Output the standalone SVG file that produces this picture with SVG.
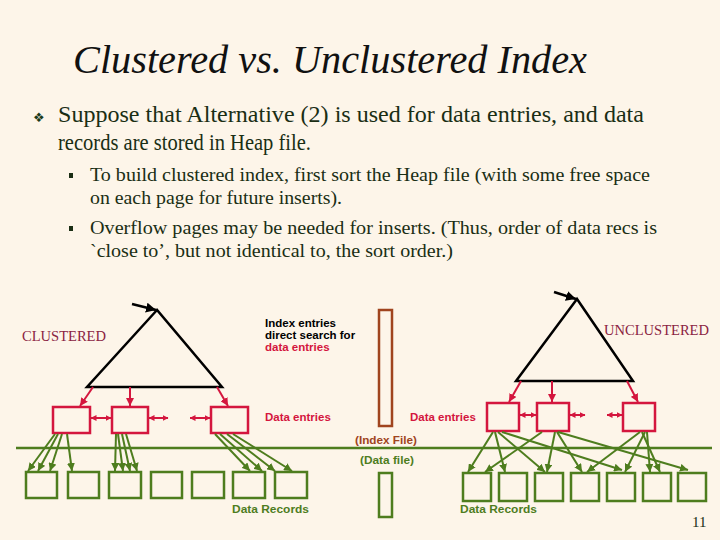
<svg xmlns="http://www.w3.org/2000/svg" width="720" height="540" viewBox="0 0 720 540">
<style>
.title{font-family:"Liberation Serif","Times New Roman","DejaVu Serif",serif;font-style:italic;font-size:40px;fill:#111}
.body{font-family:"Liberation Serif","Times New Roman",serif;fill:#1a2e14}
.lbl{font-family:"Liberation Sans",Arial,sans-serif;font-weight:bold;font-size:11.5px}
.cap{font-family:"Liberation Serif",serif;font-size:14px;fill:#8b2342}
.tri{fill:none;stroke:#000;stroke-width:2.5;stroke-linejoin:miter}
.de{fill:none;stroke:#d4163e;stroke-width:2.5}
.rec{fill:none;stroke:#4e7d1e;stroke-width:2.5}
.ra{stroke:#d4163e;stroke-width:2;fill:none;marker-end:url(#rh)}
.rd{stroke:#d4163e;stroke-width:2;fill:none;marker-end:url(#rs);marker-start:url(#rs)}
.ga{stroke:#4e7d1e;stroke-width:2;fill:none;marker-end:url(#gh)}
</style>
<defs>
<marker id="rh" markerUnits="userSpaceOnUse" markerWidth="9" markerHeight="8" refX="8" refY="4" orient="auto"><path d="M0,0 L8,4 L0,8 z" fill="#d4163e"/></marker>
<marker id="rs" markerUnits="userSpaceOnUse" markerWidth="6" markerHeight="6" refX="5.5" refY="3" orient="auto-start-reverse"><path d="M0,0 L6,3 L0,6 z" fill="#d4163e"/></marker>
<marker id="gh" markerUnits="userSpaceOnUse" markerWidth="9" markerHeight="8" refX="8" refY="4" orient="auto"><path d="M0,0 L8,4 L0,8 z" fill="#4e7d1e"/></marker>
<marker id="bh" markerUnits="userSpaceOnUse" markerWidth="11" markerHeight="10" refX="10" refY="5" orient="auto"><path d="M0,0 L10,5 L0,10 z" fill="#000"/></marker>
</defs>
<rect width="720" height="540" fill="#fdf5e9"/>

<text class="title" x="73" y="73" textLength="514" lengthAdjust="spacingAndGlyphs">Clustered vs. Unclustered Index</text>

<g id="bullets">
<text x="33" y="122" font-family="DejaVu Sans,sans-serif" font-size="13" fill="#1a3a1a">❖</text>
<text class="body" font-size="23" x="58" y="122" textLength="586" lengthAdjust="spacingAndGlyphs">Suppose that Alternative (2) is used for data entries, and data</text>
<text class="body" font-size="23" x="58" y="150" textLength="253" lengthAdjust="spacingAndGlyphs">records are stored in Heap file.</text>
<rect x="69" y="173" width="4" height="5" fill="#1a2e14"/>
<text class="body" font-size="19" x="90" y="181" textLength="560" lengthAdjust="spacingAndGlyphs">To build clustered index, first sort the Heap file (with some free space</text>
<text class="body" font-size="19" x="90" y="204" textLength="252" lengthAdjust="spacingAndGlyphs">on each page for future inserts).</text>
<rect x="69" y="226" width="4" height="5" fill="#1a2e14"/>
<text class="body" font-size="19" x="90" y="234" textLength="567" lengthAdjust="spacingAndGlyphs">Overflow pages may be needed for inserts.  (Thus, order of data recs is</text>
<text class="body" font-size="19" x="90" y="257" textLength="363" lengthAdjust="spacingAndGlyphs">`close to’, but not identical to, the sort order.)</text>
</g>

<g id="labels">
<text class="cap" x="22" y="341" textLength="84" lengthAdjust="spacingAndGlyphs">CLUSTERED</text>
<text class="cap" x="604" y="335" textLength="105" lengthAdjust="spacingAndGlyphs">UNCLUSTERED</text>
<text class="lbl" x="265" y="327" fill="#000">Index entries</text>
<text class="lbl" x="265" y="339" fill="#000">direct search for</text>
<text class="lbl" x="265" y="351" fill="#d4163e">data entries</text>
<text class="lbl" x="265" y="421" fill="#d4163e" font-size="12">Data entries</text>
<text class="lbl" x="410" y="421" fill="#d4163e" font-size="12">Data entries</text>
<text class="lbl" x="355" y="444" fill="#a0441e" textLength="62" lengthAdjust="spacingAndGlyphs">(Index File)</text>
<text class="lbl" x="360" y="464" fill="#4e7d1e" textLength="54" lengthAdjust="spacingAndGlyphs">(Data file)</text>
<text class="lbl" x="232" y="513" fill="#4e7d1e" textLength="77" lengthAdjust="spacingAndGlyphs">Data Records</text>
<text class="lbl" x="460" y="513" fill="#4e7d1e" textLength="77" lengthAdjust="spacingAndGlyphs">Data Records</text>
<text x="692" y="527" font-family="Liberation Serif,serif" font-size="15" fill="#1a2e14">11</text>
</g>

<g id="index-file"><rect x="379" y="310" width="13" height="116" fill="none" stroke="#a0441e" stroke-width="2.5"/></g>
<g id="data-file"><rect x="379" y="473" width="13" height="44" fill="none" stroke="#4e7d1e" stroke-width="2.5"/></g>
<g id="divider"><line x1="16" y1="448" x2="712" y2="448" stroke="#4e7d1e" stroke-width="2.5"/></g>

<g id="clustered-tree"><path class="tri" d="M157,310 L87,387 L222,387 Z"/></g>
<g id="unclustered-tree"><path class="tri" d="M577,299 L516,381 L633,381 Z"/></g>

<g id="c-entries">
<rect class="de" x="53" y="407" width="37" height="26"/>
<rect class="de" x="112" y="407" width="36" height="26"/>
<rect class="de" x="211" y="407" width="37" height="26"/>
</g>
<g id="u-entries">
<rect class="de" x="487" y="403" width="32" height="28"/>
<rect class="de" x="537" y="403" width="32" height="28"/>
<rect class="de" x="623" y="403" width="32" height="28"/>
</g>

<g id="c-records" class="rec">
<rect x="26" y="472" width="31" height="26"/>
<rect x="68" y="472" width="31" height="26"/>
<rect x="109" y="472" width="32" height="26"/>
<rect x="151" y="472" width="31" height="26"/>
<rect x="192" y="472" width="32" height="26"/>
<rect x="233" y="472" width="32" height="26"/>
<rect x="275" y="472" width="32" height="26"/>
</g>
<g id="u-records" class="rec">
<rect x="463" y="473" width="28" height="28"/>
<rect x="499" y="473" width="28" height="28"/>
<rect x="535" y="473" width="28" height="28"/>
<rect x="571" y="473" width="28" height="28"/>
<rect x="607" y="473" width="28" height="28"/>
<rect x="643" y="473" width="28" height="28"/>
<rect x="678" y="473" width="28" height="28"/>
</g>

<g id="connectors">
<line x1="132" y1="304" x2="156" y2="310" stroke="#000" stroke-width="2.5" marker-end="url(#bh)"/>
<line x1="554" y1="292" x2="576" y2="299" stroke="#000" stroke-width="2.5" marker-end="url(#bh)"/>

<line class="ra" x1="93" y1="387" x2="80" y2="406"/>
<line class="ra" x1="130" y1="387" x2="130" y2="406"/>
<line class="ra" x1="217" y1="387" x2="228" y2="406"/>
<line class="rd" x1="91" y1="418" x2="111" y2="418"/>
<line class="rd" x1="149" y1="418" x2="168" y2="418"/>
<line class="rd" x1="190" y1="418" x2="210" y2="418"/>

<line class="ra" x1="521" y1="381" x2="509" y2="402"/>
<line class="ra" x1="552" y1="381" x2="552" y2="402"/>
<line class="ra" x1="627" y1="381" x2="638" y2="402"/>
<line class="rd" x1="520" y1="415" x2="536" y2="415"/>
<line class="rd" x1="570" y1="415" x2="585" y2="415"/>
<line class="rd" x1="607" y1="415" x2="622" y2="415"/>

<line class="ga" x1="55" y1="434" x2="28" y2="471"/>
<line class="ga" x1="58" y1="434" x2="38" y2="471"/>
<line class="ga" x1="62" y1="434" x2="50" y2="471"/>
<line class="ga" x1="67" y1="434" x2="72" y2="471"/>
<line class="ga" x1="116" y1="434" x2="115" y2="471"/>
<line class="ga" x1="118" y1="434" x2="123" y2="471"/>
<line class="ga" x1="122" y1="434" x2="130" y2="471"/>
<line class="ga" x1="126" y1="434" x2="137" y2="471"/>
<line class="ga" x1="215" y1="434" x2="250" y2="471"/>
<line class="ga" x1="220" y1="434" x2="262" y2="471"/>
<line class="ga" x1="227" y1="434" x2="275" y2="471"/>
<line class="ga" x1="233" y1="434" x2="292" y2="471"/>

<line class="ga" x1="493" y1="432" x2="468" y2="472"/>
<line class="ga" x1="495" y1="432" x2="505" y2="472"/>
<line class="ga" x1="498" y1="432" x2="545" y2="472"/>
<line class="ga" x1="502" y1="432" x2="622" y2="470"/>
<line class="ga" x1="542" y1="432" x2="485" y2="472"/>
<line class="ga" x1="555" y1="432" x2="547" y2="472"/>
<line class="ga" x1="557" y1="432" x2="582" y2="472"/>
<line class="ga" x1="558" y1="432" x2="688" y2="470"/>
<line class="ga" x1="640" y1="432" x2="587" y2="472"/>
<line class="ga" x1="645" y1="432" x2="625" y2="472"/>
<line class="ga" x1="647" y1="432" x2="650" y2="472"/>
<line class="ga" x1="642" y1="432" x2="660" y2="472"/>
</g>
</svg>
